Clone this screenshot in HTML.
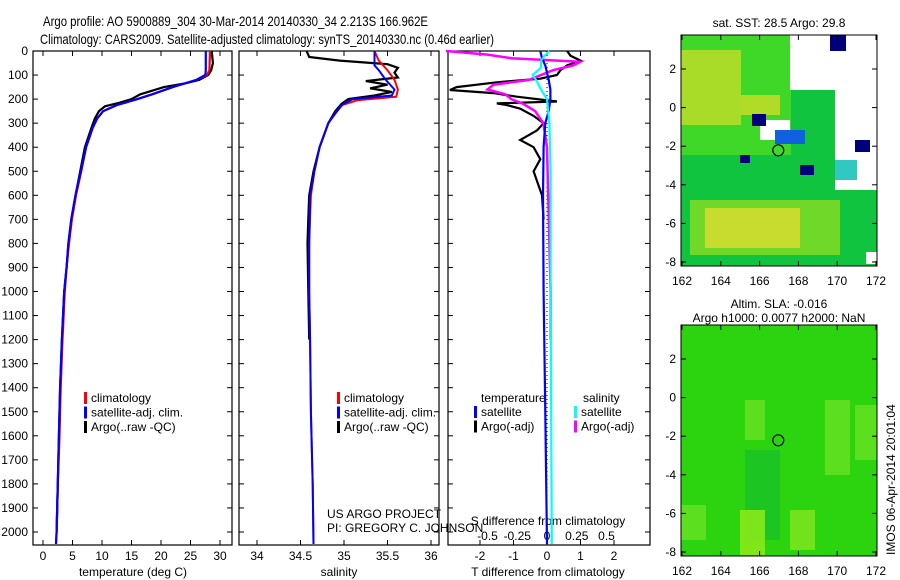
<!DOCTYPE html>
<html><head><meta charset="utf-8"><style>
body{margin:0;background:#fff}
svg{display:block;font-family:"Liberation Sans",sans-serif}
</style></head><body>
<svg id="chart" width="900" height="580" viewBox="0 0 900 580" xmlns="http://www.w3.org/2000/svg">
<rect width="900" height="580" fill="#fff"/>
<text x="43" y="26" font-size="14" textLength="385" lengthAdjust="spacingAndGlyphs">Argo profile: AO 5900889_304 30-Mar-2014 20140330_34 2.213S 166.962E</text>
<text x="40" y="44" font-size="14" textLength="454" lengthAdjust="spacingAndGlyphs">Climatology: CARS2009. Satellite-adjusted climatology: synTS_20140330.nc (0.46d earlier)</text>
<g id="g"></g>
</svg>
<script>
// ---- data ----
const depthTicks=[0,100,200,300,400,500,600,700,800,900,1000,1100,1200,1300,1400,1500,1600,1700,1800,1900,2000];
const tempTicks=[0,5,10,15,20,25,30];
const salTicks=[34,34.5,35,35.5,36];
const tdTicks=[-2,-1,0,1,2];
const sdTicks=[-0.5,-0.25,0,0.25,0.5];
const tArgoD=[0,50,80,100,120,135,150,165,180,200,215,230,250,280,320,400,500,600,700,800,900,1000,1200,1400,1600,1800,2000];
const tArgoV=[28.6,28.8,28.5,28.0,26.5,24,20.5,18.5,16.5,15,13,10.5,9.5,8.8,8.2,7.1,6.3,5.5,4.8,4.3,4.0,3.6,3.2,2.9,2.7,2.5,2.3];
const tClimD=[0,80,100,120,150,180,200,225,250,280,320,400,500,600,700,800,900,1000,1200,1400,1600,1800,2000,2050];
const tClimV=[28.3,28.2,27.8,26,22,18.5,16,12.5,10.2,9.2,8.4,7.3,6.5,5.6,4.9,4.4,4.0,3.7,3.3,3.0,2.8,2.5,2.3,2.2];
const tSatD=[0,80,100,120,150,180,200,225,250,280,320,400,500,600,700,800,900,1000,1200,1400,1600,1800,2000,2050];
const tSatV=[27.6,27.6,27.5,26,22,18.5,16,12.5,10.2,9.2,8.4,7.3,6.4,5.5,4.8,4.3,4.0,3.6,3.2,2.9,2.7,2.5,2.3,2.2];
const sArgoD=[0,25,40,55,70,90,110,125,140,155,170,185,200,220,250,300,400,500,600,700,800,1000,1200];
const sArgoV=[34.57,34.6,34.95,35.5,35.62,35.58,35.62,35.25,35.5,35.3,35.55,35.35,35.05,34.97,34.9,34.82,34.72,34.65,34.6,34.59,34.58,34.59,34.6];
const sClimD=[0,40,80,120,160,190,205,225,260,300,400,500,600,800,1000,1200,1500,1800,2050];
const sClimV=[35.35,35.4,35.5,35.58,35.62,35.6,35.15,34.98,34.9,34.82,34.72,34.66,34.62,34.6,34.6,34.61,34.62,34.64,34.65];
const sSatD=[0,40,60,80,120,160,185,200,225,260,300,400,500,600,800,1000,1200,1500,1800,2050];
const sSatV=[35.35,35.35,35.35,35.4,35.48,35.58,35.55,35.1,34.97,34.9,34.82,34.72,34.66,34.61,34.6,34.6,34.61,34.62,34.64,34.65];
const dTArgoD=[0,20,40,60,80,100,115,130,150,162,175,190,210,218,225,240,270,300,330,370,400,450,500,600,700];
const dTArgoV=[0.6,0.7,1.0,0.6,0.4,0.3,-0.2,-1.5,-2.7,-2.9,-1.6,-0.9,0.3,-1.5,-1.2,-0.8,-0.4,-0.1,-0.3,-0.8,-0.4,-0.2,-0.4,-0.15,-0.1];
const dTSatD=[0,30,60,90,120,160,200,250,300,400,600,1000,1500,2050];
const dTSatV=[-0.2,-0.15,-0.05,0.0,0.05,0.1,0.1,0.05,-0.05,-0.1,-0.12,-0.1,-0.05,0.0];
const dSArgoD=[0,15,30,45,60,80,100,120,140,160,180,200,220,250,300,400,600,800,1000,1200];
const dSArgoV=[-0.85,-0.5,-0.3,0.28,0.22,0.05,-0.05,-0.15,-0.45,-0.5,-0.35,-0.3,-0.2,-0.1,-0.03,0.0,0.01,0.02,0.03,0.03];
const dSSatD=[0,20,40,70,100,130,160,200,300,500,1000,2050];
const dSSatV=[0.02,-0.02,-0.05,-0.05,-0.12,-0.08,-0.05,0.0,0.02,0.03,0.03,0.04];
const lonTicks=[162,164,166,168,170,172];
const latTicks=[2,0,-2,-4,-6,-8];
const argoLon=166.962, argoLat=-2.213;

// ---- helpers ----
const NS="http://www.w3.org/2000/svg";
const G=document.getElementById('g');
function el(t,a,p){const e=document.createElementNS(NS,t);for(const k in a)e.setAttribute(k,a[k]);(p||G).appendChild(e);return e;}
function txt(x,y,s,sz,anchor,p){const e=el('text',{x:x,y:y,'font-size':sz||12,'text-anchor':anchor||'start'},p);e.textContent=s;return e;}
const Y=d=>51+d*(532-51)/2000;
function panel(x0,x1,name){
  const g=el('g',{});
  
  
  el('rect',{x:x0,y:51,width:x1-x0,height:545-51,fill:'none',stroke:'#000','stroke-width':1.2},g);
  depthTicks.forEach(d=>{el('line',{x1:x0,x2:x0+5,y1:Y(d),y2:Y(d),stroke:'#000'},g);el('line',{x1:x1,x2:x1-5,y1:Y(d),y2:Y(d),stroke:'#000'},g);});
  return g;
}
function line(D,V,X,col,w,name,dash){
  const pts=D.map((d,i)=>X(V[i]).toFixed(1)+','+Y(d).toFixed(1)).join(' ');
  const p=el('polyline',{points:pts,fill:'none',stroke:col,'stroke-width':w||2.2});
  if(dash)p.setAttribute('stroke-dasharray',dash);
  
  
  return p;
}
function legend(x,y,items,p){items.forEach((it,i)=>{el('rect',{x:x,y:y+i*14.5-10,width:3,height:12,fill:it[0]},p);txt(x+7,y+i*14.5,it[1],12,'start',p);});}

// ---- panel 1 temperature ----
const XT=v=>43+v*(220-43)/30;
const p1=panel(33,232,'temperature-panel');
depthTicks.forEach(d=>{txt(28,Y(d)+4,String(d),12,'end',p1);});
tempTicks.forEach(v=>{el('line',{x1:XT(v),x2:XT(v),y1:545,y2:540,stroke:'#000'},p1);el('line',{x1:XT(v),x2:XT(v),y1:51,y2:56,stroke:'#000'},p1);txt(XT(v),560,String(v),12,'middle',p1);});
txt(133,576,'temperature (deg C)',12,'middle',p1);
line(tArgoD,tArgoV,XT,'#000',2.2,'temp-argo-line');
line(tClimD,tClimV,XT,'#f00',2.2,'temp-climatology-line');
line(tSatD,tSatV,XT,'#00f',2.2,'temp-satellite-line');
legend(84,402,[['#f00','climatology'],['#00f','satellite-adj. clim.'],['#000','Argo(..raw -QC)']],p1);

// ---- panel 2 salinity ----
const XS=v=>257+(v-34)*(431-257)/2;
const p2=panel(239,439,'salinity-panel');
salTicks.forEach(v=>{el('line',{x1:XS(v),x2:XS(v),y1:545,y2:540,stroke:'#000'},p2);el('line',{x1:XS(v),x2:XS(v),y1:51,y2:56,stroke:'#000'},p2);txt(XS(v),560,String(v),12,'middle',p2);});
txt(339,576,'salinity',12,'middle',p2);
line(sArgoD,sArgoV,XS,'#000',2.2,'sal-argo-line');
line(sClimD,sClimV,XS,'#f00',2,'sal-climatology-line');
line(sSatD,sSatV,XS,'#00f',2,'sal-satellite-line');
legend(337,402,[['#f00','climatology'],['#00f','satellite-adj. clim.'],['#000','Argo(..raw -QC)']],p2);
txt(327,518,'US ARGO PROJECT',12,'start',p2);
txt(327,532,'PI: GREGORY C. JOHNSON',12,'start',p2);

// ---- panel 3 differences ----
const XD=v=>547+v*(614-480)/4;
const XSD=v=>547+v*119;
const p3=panel(448,650,'difference-panel');
tdTicks.forEach(v=>{el('line',{x1:XD(v),x2:XD(v),y1:545,y2:540,stroke:'#000'},p3);el('line',{x1:XD(v),x2:XD(v),y1:51,y2:56,stroke:'#000'},p3);txt(XD(v),560,String(v),12,'middle',p3);});
sdTicks.forEach(v=>{txt(XSD(v),540,String(v),12,'middle',p3);});
el('line',{x1:547,x2:547,y1:51,y2:545,stroke:'#000','stroke-dasharray':'1,3'},p3);
txt(548,525,'S difference from climatology',12,'middle',p3);
txt(548,576,'T difference from climatology',12,'middle',p3);
line(dTArgoD,dTArgoV,XD,'#000',2.2,'tdiff-argo-line');
line(dSArgoD,dSArgoV,XSD,'#f0f',2.5,'sdiff-argo-line');
line(dTSatD,dTSatV,XD,'#00f',2.2,'tdiff-satellite-line');
line(dSSatD,dSSatV,XSD,'#0ff',2.2,'sdiff-satellite-line');
txt(481,402,'temperature',12,'start',p3);txt(583,402,'salinity',12,'start',p3);
legend(474,416,[['#00f','satellite'],['#000','Argo(-adj)']],p3);
legend(574,416,[['#0ff','satellite'],['#f0f','Argo(-adj)']],p3);

// ---- maps ----
const LX=v=>682+(v-162)*19.4;
function map(y0,name,title1,title2,fills){
  const g=el('g',{});
  
  
  const LY=v=>y0+34+(2-v)*19.3;
  fills(g,LX,LY,y0);
  el('rect',{x:681,y:y0,width:196,height:231,fill:'none',stroke:'#000'},g);
  lonTicks.forEach(v=>{el('line',{x1:LX(v),x2:LX(v),y1:y0+231,y2:y0+226,stroke:'#000'},g);el('line',{x1:LX(v),x2:LX(v),y1:y0,y2:y0+5,stroke:'#000'},g);txt(LX(v),y0+250,String(v),12,'middle',g);});
  latTicks.forEach(v=>{el('line',{x1:681,x2:686,y1:LY(v),y2:LY(v),stroke:'#000'},g);el('line',{x1:877,x2:872,y1:LY(v),y2:LY(v),stroke:'#000'},g);txt(676,LY(v)+4,String(v),12,'end',g);});
  const c=el('circle',{cx:LX(argoLon),cy:LY(argoLat),r:5.5,fill:'none',stroke:'#000','stroke-width':1.2},g);
  
  
  if(title2){txt(779,y0-17,title1,12,'middle',g);txt(779,y0-3,title2,12,'middle',g);}else txt(779,y0-8,title1,12,'middle',g);
  return g;
}
map(35,'sst-map','sat. SST: 28.5 Argo: 29.8',null,(g)=>{
  el('rect',{x:681,y:35,width:196,height:231,fill:'#10c440'},g);
  el('rect',{x:681,y:35,width:110,height:120,fill:'#40d828'},g);
  el('rect',{x:681,y:50,width:60,height:75,fill:'#a8dc28'},g);
  el('rect',{x:740,y:95,width:40,height:20,fill:'#b0dc28'},g);
  el('rect',{x:690,y:200,width:150,height:55,fill:'#70d828'},g);
  el('rect',{x:705,y:208,width:95,height:40,fill:'#c8dc30'},g);
  el('rect',{x:790,y:35,width:87,height:55,fill:'#fff'},g);
  el('rect',{x:835,y:90,width:42,height:100,fill:'#fff'},g);
  el('rect',{x:760,y:120,width:30,height:20,fill:'#fff'},g);
  el('rect',{x:830,y:35,width:16,height:16,fill:'#00007a'},g);
  el('rect',{x:752,y:114,width:14,height:12,fill:'#00007a'},g);
  el('rect',{x:775,y:130,width:30,height:14,fill:'#1060e0'},g);
  el('rect',{x:800,y:165,width:14,height:10,fill:'#00007a'},g);
  el('rect',{x:740,y:155,width:10,height:8,fill:'#00007a'},g);
  el('rect',{x:855,y:140,width:15,height:12,fill:'#00007a'},g);
  el('rect',{x:835,y:160,width:22,height:20,fill:'#30c8c0'},g);
  el('rect',{x:866,y:252,width:11,height:12,fill:'#fff'},g);
});
map(325,'sla-map','Altim. SLA: -0.016','Argo h1000: 0.0077 h2000: NaN',(g)=>{
  el('rect',{x:681,y:325,width:196,height:231,fill:'#2bd40f'},g);
  el('rect',{x:745,y:400,width:20,height:40,fill:'#60e020',opacity:0.9},g);
  el('rect',{x:825,y:400,width:25,height:75,fill:'#60e020',opacity:0.9},g);
  el('rect',{x:855,y:405,width:22,height:55,fill:'#60e020',opacity:0.9},g);
  el('rect',{x:745,y:450,width:35,height:90,fill:'#12b835',opacity:0.55},g);
  el('rect',{x:740,y:510,width:25,height:45,fill:'#8ae81a',opacity:0.9},g);
  el('rect',{x:790,y:510,width:25,height:40,fill:'#7ae41c',opacity:0.9},g);
  el('rect',{x:681,y:505,width:25,height:35,fill:'#60e020',opacity:0.9},g);
});
const ts=txt(0,0,'IMOS 06-Apr-2014 20:01:04',12,'start');
ts.setAttribute('transform','translate(895,555) rotate(-90)');


</script>
</body></html>
